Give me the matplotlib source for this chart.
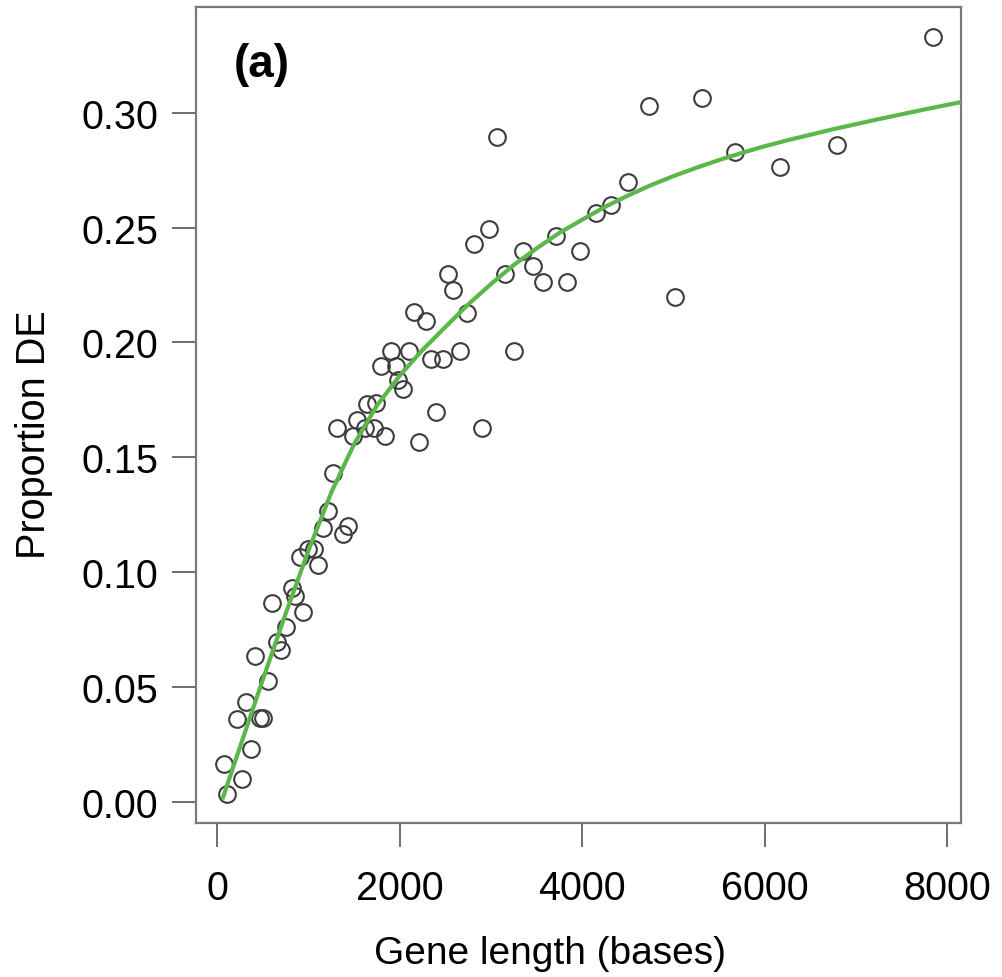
import matplotlib
matplotlib.use('Agg')
import matplotlib.pyplot as plt

# ---- data ----
gene_length = [110, 77, 274, 369, 213, 315, 471, 504, 552, 413,
               698, 651, 750, 596, 942, 852, 815, 906, 1107, 997,
               1063, 1162, 1216, 1381, 1429, 1265, 1315, 1528, 1484, 1619,
               1717, 1838, 1644, 1739, 1794, 1955, 1900, 2104, 1981, 2038,
               2156, 2284, 2347, 2470, 2397, 2214, 2532, 2583, 2660, 2733,
               2813, 2898, 2981, 3062, 3153, 3252, 3350, 3463, 3569, 3712,
               3836, 3975, 4145, 4309, 4504, 4736, 5021, 5317, 5673, 6167,
               6786, 7840]
prop_de = [0.0034, 0.0164, 0.0099, 0.0230, 0.0361, 0.0434, 0.0363, 0.0363, 0.0527, 0.0635,
           0.0662, 0.0697, 0.0762, 0.0864, 0.0828, 0.0897, 0.0930, 0.1065, 0.1031, 0.1101,
           0.1101, 0.1191, 0.1265, 0.1166, 0.1200, 0.1432, 0.1628, 0.1664, 0.1594, 0.1628,
           0.1628, 0.1594, 0.1732, 0.1737, 0.1899, 0.1899, 0.1965, 0.1965, 0.1835, 0.1796,
           0.2132, 0.2095, 0.1928, 0.1928, 0.1698, 0.1566, 0.2300, 0.2229, 0.1965, 0.2127,
           0.2429, 0.1629, 0.2493, 0.2897, 0.2299, 0.1965, 0.2397, 0.2332, 0.2264, 0.2464,
           0.2264, 0.2397, 0.2563, 0.2599, 0.2699, 0.3029, 0.2198, 0.3064, 0.2831, 0.2763,
           0.2862, 0.3332]

# fitted curve
fit_length = [55, 250, 500, 750, 1000, 1250, 1500, 1750, 2000, 2250, 2500,
              2750, 3000, 3250, 3500, 3750, 4000, 4250, 4500, 4750, 5000,
              5250, 5500, 5750, 6000, 6250, 6500, 6750, 7000, 7250, 7500,
              7750, 8000, 8200]
fit_prop = [0.0010, 0.0240, 0.0533, 0.0820, 0.1095, 0.1348, 0.1558, 0.1726, 0.1856, 0.1968, 0.2068,
            0.2166, 0.2255, 0.2338, 0.2410, 0.2478, 0.2535, 0.2591, 0.2640, 0.2685, 0.2725,
            0.2761, 0.2795, 0.2826, 0.2855, 0.2881, 0.2905, 0.2929, 0.2951, 0.2973, 0.2994,
            0.3015, 0.3035, 0.3051]

x_ticks = [0, 2000, 4000, 6000, 8000]
x_tick_labels = ['0', '2000', '4000', '6000', '8000']
y_ticks = [0.00, 0.05, 0.10, 0.15, 0.20, 0.25, 0.30]
y_tick_labels = ['0.00', '0.05', '0.10', '0.15', '0.20', '0.25', '0.30']

x_label = 'Gene length (bases)'
y_label = 'Proportion DE'
panel_label = '(a)'

# ---- drawing ----
plt.rcParams['font.family'] = ['Liberation Sans', 'DejaVu Sans']

W, H = 1002, 978
fig = plt.figure(figsize=(W / 100, H / 100), dpi=100)
left, right, top, bottom = 195.7, 960.7, 8.3, 824.0
ax = fig.add_axes([left / W, 1 - bottom / H, (right - left) / W, (bottom - top) / H])

ax.plot(gene_length, prop_de, linestyle='none', marker='o', ms=12,
        mfc='none', mec='#3c3c3c', mew=1.5, zorder=2)
ax.plot(fit_length, fit_prop, color='#5cb649', lw=3.0, zorder=3,
        solid_capstyle='butt', solid_joinstyle='round')

ax.set_xlim(-237, 8147)
ax.set_ylim(-0.0093, 0.3460)

ax.set_xticks(x_ticks)
ax.set_xticklabels(x_tick_labels)
ax.set_yticks(y_ticks)
ax.set_yticklabels(y_tick_labels)

ax.tick_params(axis='both', direction='out', length=17, width=1.4,
               color='#6e6e6e', labelsize=28.5, labelcolor='black')
ax.tick_params(axis='x', pad=16)
ax.tick_params(axis='y', pad=10)

for s in ax.spines.values():
    s.set_color('#7a7a7a')
    s.set_linewidth(1.6)

fig.text(550 / W, 1 - 954 / H, x_label, ha='center', va='center', fontsize=28)
fig.text(34 / W, 1 - 435 / H, y_label, ha='center', va='center',
         rotation=90, fontsize=28.5)

ax.text(0.050, 0.930, panel_label, transform=ax.transAxes, ha='left',
        va='center', fontsize=33, fontweight='bold')

fig.savefig('out.png', dpi=100)
